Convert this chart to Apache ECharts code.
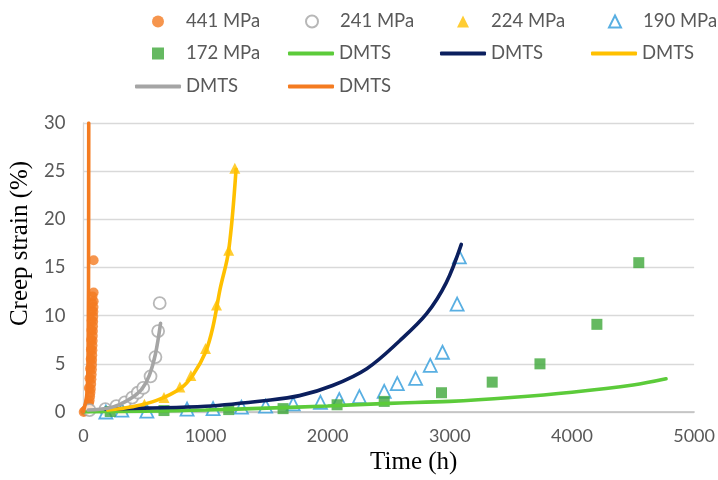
<!DOCTYPE html>
<html>
<head>
<meta charset="utf-8">
<title>Creep strain vs time</title>
<script src="https://cdn.jsdelivr.net/npm/echarts@6/dist/echarts.min.js"></script>
<style>
  html, body { margin: 0; padding: 0; background: #fff; }
  #chart { width: 718px; height: 480px; }
</style>
</head>
<body>
<div id="chart"></div>
<script>
// ---- Measured creep data (time in h, creep strain in %) ----
const t441 = [3, 12, 22, 32, 40, 46, 51, 55, 58, 61, 64, 66, 68, 70, 71, 72, 73, 74, 75, 76, 77, 78, 79, 80, 81, 82, 83, 84, 84, 84,
              45, 50, 55, 60, 62, 64, 66, 68, 70, 72, 74];
const s441 = [0, 0.1, 0.2, 0.4, 0.6, 0.9, 1.2, 1.6, 2.0, 2.4, 2.9, 3.4, 3.9, 4.4, 4.9, 5.4, 5.9, 6.4, 6.9, 7.4, 7.9, 8.4, 8.9, 9.4, 9.9, 10.4, 10.9, 11.5, 12.4, 15.75,
              2.5, 3.5, 4.5, 5.5, 6.5, 7.5, 8.5, 9.5, 10.5, 11.3, 12.0];

const t241 = [50, 180, 270, 340, 400, 445, 490, 550, 590, 612, 625];
const s241 = [0.2, 0.3, 0.6, 1.0, 1.5, 2.0, 2.5, 3.7, 5.7, 8.4, 11.3];

const t224 = [320, 500, 660, 790, 880, 1000, 1090, 1190, 1240];
const s224 = [0.3, 0.8, 1.5, 2.6, 3.8, 6.6, 11.1, 16.8, 25.3];

const t190 = [184, 315, 520, 849, 1062, 1294, 1492, 1718, 1941, 2095, 2260, 2463, 2570, 2720, 2840, 2940, 3060, 3078];
const s190 = [0.0, 0.2, 0.1, 0.3, 0.35, 0.5, 0.6, 0.85, 1.0, 1.3, 1.6, 2.15, 2.95, 3.5, 4.85, 6.2, 11.2, 16.1];

const t172 = [220, 660, 1190, 1635, 2077, 2463, 2932, 3347, 3738, 4204, 4547];
const s172 = [0.05, 0.15, 0.25, 0.35, 0.75, 1.1, 2.0, 3.1, 5.0, 9.1, 15.5];

// ---- DMTS model curves ----
const tFit172 = [0, 500, 1000, 1500, 2000, 2500, 3000, 3500, 4000, 4500, 4770];
const sFit172 = [0, 0.08, 0.2, 0.4, 0.62, 0.9, 1.1, 1.5, 2.05, 2.8, 3.45];

const tFit190 = [180, 500, 1000, 1500, 1770, 2040, 2320, 2590, 2810, 2970, 3094];
const sFit190 = [0.3, 0.4, 0.6, 1.2, 1.7, 2.75, 4.5, 7.4, 10.2, 13.4, 17.4];

const tFit224 = [200, 400, 600, 800, 900, 1000, 1060, 1120, 1190, 1250];
const sFit224 = [0.2, 0.55, 1.2, 2.5, 3.9, 6.2, 8.8, 12.8, 16.8, 25.2];

const tFit241 = [40, 200, 300, 400, 480, 540, 590, 632];
const sFit241 = [0.2, 0.4, 0.8, 1.5, 2.4, 3.8, 6.0, 9.2];

const tFit441 = [0, 30, 40, 43, 44];
const sFit441 = [0, 2, 8, 18, 30];

// ---- Axis ticks ----
const xTicks = [0, 1000, 2000, 3000, 4000, 5000];
const yTicks = [0, 5, 10, 15, 20, 25, 30];

const pairs = (xs, ys) => xs.map((x, i) => [x, ys[i]]);

const FONT = 'Lato, "Liberation Sans", sans-serif';
const SERIF = '"Liberation Serif", "DejaVu Serif", serif';
const TXT = '#595959';

const C = {
  orange: '#F47B20', gray: '#A5A5A5', yellow: '#FFC000',
  blue: '#2F9BDB', green: '#3EA83A', lime: '#5CCB3A', navy: '#0B1F5E'
};

function scatter(name, xs, ys, symbol, size, fill, border) {
  return {
    name, type: 'scatter', data: pairs(xs, ys), symbol, symbolSize: size,
    symbolKeepAspect: true,
    itemStyle: border
      ? { color: '#ffffff', borderColor: border, borderWidth: 1.8 }
      : { color: fill },
    emphasis: { disabled: true }
  };
}

function curve(name, xs, ys, color) {
  return {
    name, type: 'line', data: pairs(xs, ys), smooth: 0.35,
    symbol: 'none', showSymbol: false,
    lineStyle: { color, width: 3.6, cap: 'round' }, itemStyle: { color },
    emphasis: { disabled: true }, clip: true
  };
}

const series = [
  scatter('441 MPa', t441, s441, 'circle', 10, C.orange),
  scatter('241 MPa', t241, s241, 'circle', 12, null, C.gray),
  scatter('224 MPa', t224, s224, 'triangle', 11, C.yellow),
  scatter('190 MPa', t190, s190, 'triangle', 13, null, C.blue),
  scatter('172 MPa', t172, s172, 'rect', 11, C.green),
  curve('DMTS-172', tFit172, sFit172, C.lime),
  curve('DMTS-190', tFit190, sFit190, C.navy),
  curve('DMTS-224', tFit224, sFit224, C.yellow),
  curve('DMTS-241', tFit241, sFit241, C.gray),
  curve('DMTS-441', tFit441, sFit441, C.orange)
];
const symbolOf = Object.fromEntries(series.map(s => [s.name, s.symbol]));

// Legend laid out as a 4-column grid, one entry per legend component.
// Line entries get a 46px stroke; marker entries a 12px symbol centred in that slot.
const legendCols = [135, 288, 440, 591];
const legendRows = [23, 55, 88];
const legendSlots = [
  ['441 MPa', 0, 0], ['241 MPa', 1, 0], ['224 MPa', 2, 0], ['190 MPa', 3, 0],
  ['172 MPa', 0, 1], ['DMTS-172', 1, 1], ['DMTS-190', 2, 1], ['DMTS-224', 3, 1],
  ['DMTS-241', 0, 2], ['DMTS-441', 1, 2]
];
const legends = legendSlots.map(([name, c, r]) => {
  const isLine = name.indexOf('DMTS') === 0;
  return {
    data: [{ name, icon: isLine ? 'roundRect' : symbolOf[name] }],
    left: isLine ? legendCols[c] : legendCols[c] + 17,
    top: legendRows[r] - 11,
    itemWidth: isLine ? 46 : 12, itemHeight: isLine ? 4 : 12, padding: 0,
    symbolKeepAspect: true,
    selectedMode: false,
    formatter: n => n.indexOf('DMTS') === 0 ? 'DMTS' : n,
    textStyle: { fontFamily: FONT, fontSize: 18.5, color: TXT, padding: [0, 0, 0, isLine ? 0 : 17] }
  };
});

const chart = echarts.init(document.getElementById('chart'), null, { renderer: 'canvas' });
chart.setOption({
  animation: false,
  backgroundColor: '#ffffff',
  legend: legends,
  grid: { left: 83, right: 22, top: 123, bottom: 68, containLabel: false },
  xAxis: {
    type: 'value', min: xTicks[0], max: xTicks[xTicks.length - 1],
    interval: xTicks[1] - xTicks[0],
    name: 'Time (h)', nameLocation: 'middle', nameGap: 37,
    nameTextStyle: { fontFamily: SERIF, fontSize: 25, color: '#000', padding: [0, 0, 0, 50] },
    axisLine: { show: true, lineStyle: { color: '#BFBFBF', width: 1.5 } },
    axisTick: { show: false },
    splitLine: { show: false },
    axisLabel: { fontFamily: FONT, fontSize: 18, color: TXT, margin: 15, formatter: v => String(v) }
  },
  yAxis: {
    type: 'value', min: yTicks[0], max: yTicks[yTicks.length - 1],
    interval: yTicks[1] - yTicks[0],
    name: 'Creep strain (%)', nameLocation: 'middle', nameGap: 45,
    nameTextStyle: { fontFamily: SERIF, fontSize: 25, color: '#000', padding: [0, 0, 0, 48] },
    axisLine: { show: true, lineStyle: { color: '#D9D9D9', width: 1.3 } },
    axisTick: { show: false },
    splitLine: { show: true, lineStyle: { color: '#D9D9D9', width: 1.3 } },
    axisLabel: { fontFamily: FONT, fontSize: 18.5, color: TXT, margin: 18, formatter: v => String(v) }
  },
  series
});
</script>
</body>
</html>
